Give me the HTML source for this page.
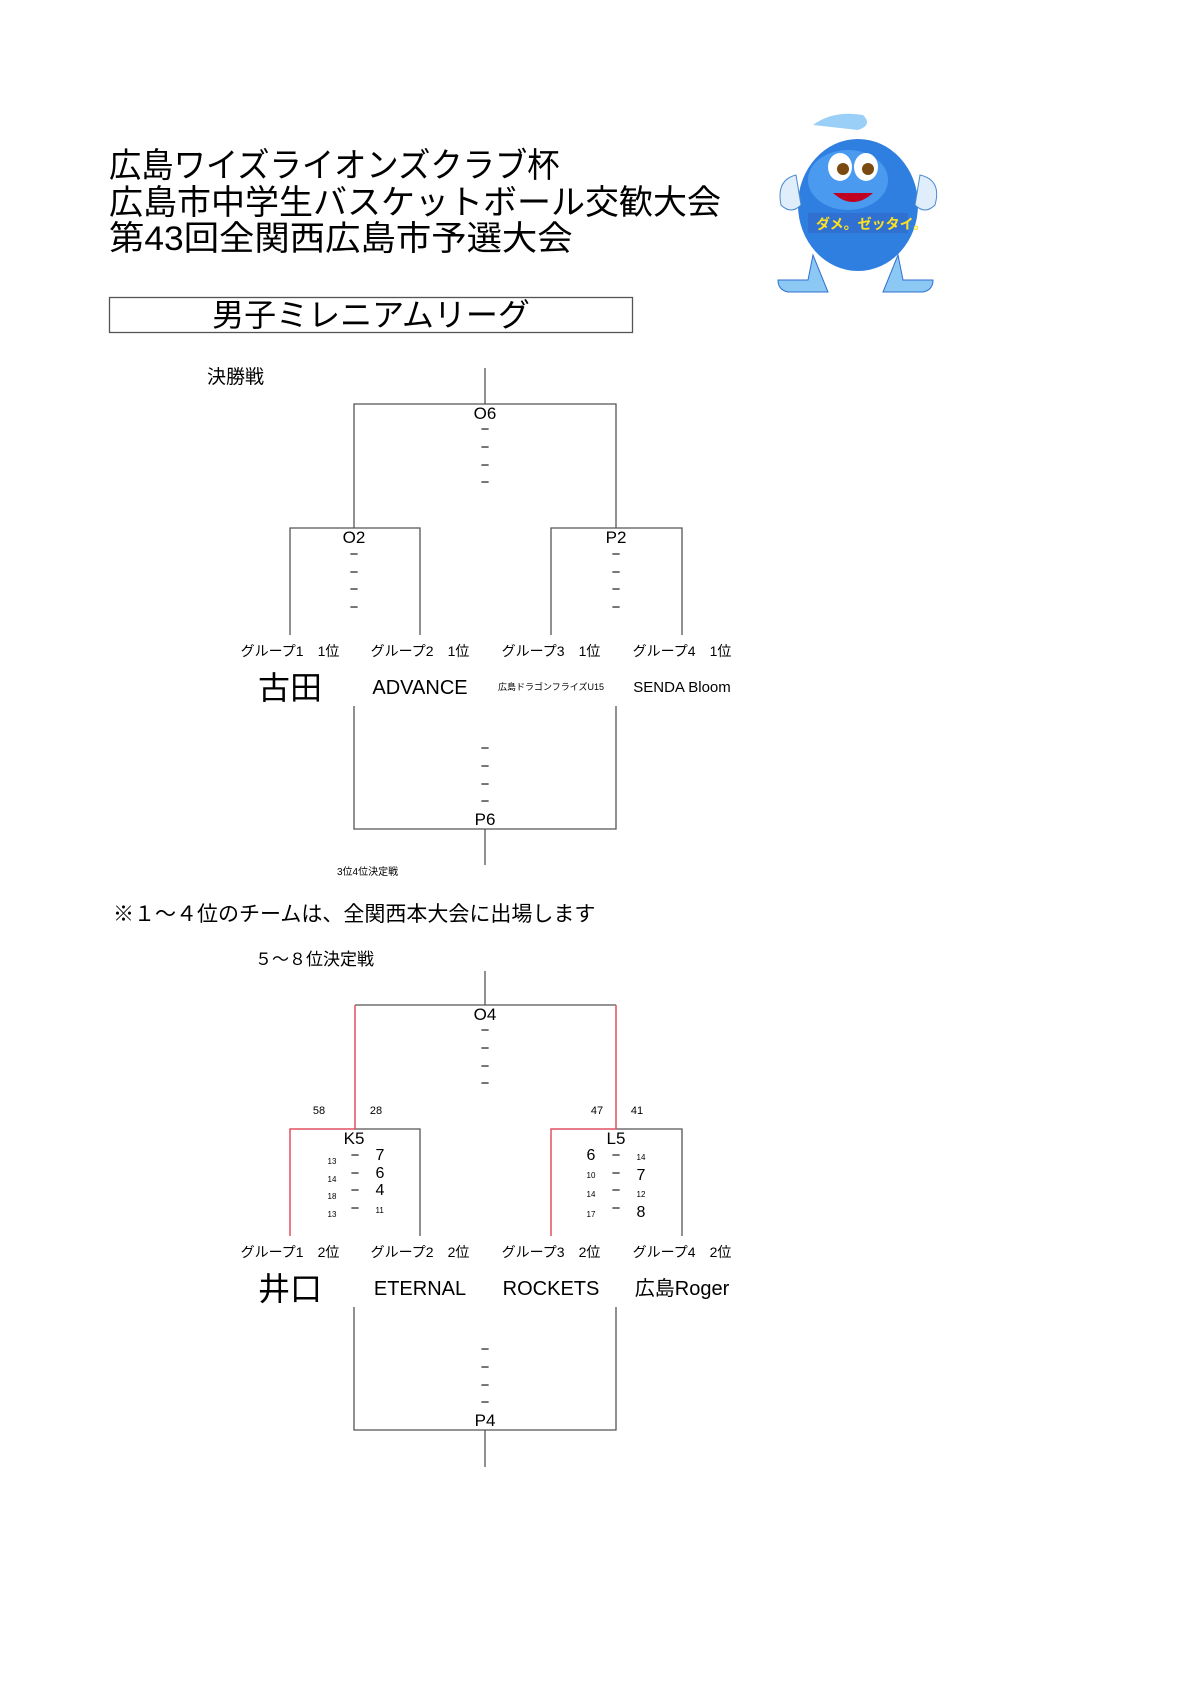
<!DOCTYPE html>
<html><head><meta charset="utf-8"><style>
body{margin:0;background:#fff;}
#p{position:relative;width:1190px;height:1683px;overflow:hidden;font-family:"Liberation Sans","Noto Sans CJK JP",sans-serif;color:#000;}
.t{position:absolute;white-space:nowrap;line-height:1;}
.c{transform:translateX(-50%);}
</style></head><body><div id="p">
<svg width="1190" height="1683" style="position:absolute;left:0;top:0">
<g stroke="#555" stroke-width="1.3" fill="none">
<path d="M485 368V404M354 528V404H616V528"/>
<path d="M290 635V528H420V635M551 635V528H682V635"/>
<path d="M354 706V829H616V706M485 829V865"/>
<path d="M485 971V1005M355 1005H616"/>
<path d="M354 1129H420V1236M616 1129H682V1236"/>
<path d="M354 1307V1430H616V1307M485 1430V1467"/>
<rect x="109.5" y="297.5" width="523" height="35"/>
</g>
<g stroke="#e05060" stroke-width="1.5" fill="none">
<path d="M355 1005V1129H290V1236M616 1005V1129H551V1236"/>
</g>
<g transform="translate(858,205)">
<ellipse cx="0" cy="0" rx="60" ry="66" fill="#2f7fe0"/>
<ellipse cx="-10" cy="-25" rx="40" ry="30" fill="#4a9af0"/>
<path d="M-62 -30 q-20 5 -15 30 q10 10 20 0z" fill="#dfeefa" stroke="#4a8ad0"/>
<path d="M62 -30 q22 5 15 30 q-10 10 -20 0z" fill="#dfeefa" stroke="#4a8ad0"/>
<ellipse cx="-18" cy="-38" rx="12" ry="14" fill="#fff"/><ellipse cx="8" cy="-38" rx="12" ry="14" fill="#fff"/>
<circle cx="-15" cy="-36" r="6" fill="#7a4a10"/><circle cx="10" cy="-36" r="6" fill="#7a4a10"/>
<path d="M-25 -12 q20 18 40 0" fill="#c00020"/>
<rect x="-50" y="8" width="100" height="20" fill="#3070d0"/>
<text x="-42" y="24" font-size="14" fill="#ffe020" font-family="Noto Sans CJK JP,sans-serif" font-weight="bold">ダメ。ゼッタイ。</text>
<path d="M-45 -80 q20 -15 50 -10 q10 10 -5 15z" fill="#9ad0f8"/>
<path d="M-45 50 l-5 25 h-30 q0 10 10 12 h40z" fill="#8cc8f4" stroke="#3070d0"/>
<path d="M40 50 l5 25 h30 q0 10 -10 12 h-40z" fill="#8cc8f4" stroke="#3070d0"/>
</g>
</svg>
<div class="t" style="left:109px;top:149px;font-size:34px;transform:scaleX(0.95);transform-origin:0 0;">広島ワイズライオンズクラブ杯</div>
<div class="t" style="left:109px;top:186px;font-size:34px;">広島市中学生バスケットボール交歓大会</div>
<div class="t" style="left:109px;top:222px;font-size:34px;transform:scaleX(1.04);transform-origin:0 0;">第43回全関西広島市予選大会</div>
<div class="t c" style="left:371px;top:299px;font-size:32px;">男子ミレニアムリーグ</div>
<div class="t" style="left:207px;top:368px;font-size:19px;">決勝戦</div>

<div class="t c" style="left:485px;top:405px;font-size:17px;">O6</div>
<div class="t c" style="left:485px;top:421px;font-size:15px;line-height:17.8px;">−<br>−<br>−<br>−</div>
<div class="t c" style="left:354px;top:529px;font-size:17px;">O2</div>
<div class="t c" style="left:354px;top:546px;font-size:15px;line-height:17.5px;">−<br>−<br>−<br>−</div>
<div class="t c" style="left:616px;top:529px;font-size:17px;">P2</div>
<div class="t c" style="left:616px;top:546px;font-size:15px;line-height:17.5px;">−<br>−<br>−<br>−</div>

<div class="t c" style="left:290px;top:644px;font-size:14px;">グループ1　1位</div>
<div class="t c" style="left:420px;top:644px;font-size:14px;">グループ2　1位</div>
<div class="t c" style="left:551px;top:644px;font-size:14px;">グループ3　1位</div>
<div class="t c" style="left:682px;top:644px;font-size:14px;">グループ4　1位</div>
<div class="t c" style="left:290px;top:672px;font-size:32px;">古田</div>
<div class="t c" style="left:420px;top:678px;font-size:20px;">ADVANCE</div>
<div class="t c" style="left:551px;top:683px;font-size:9px;">広島ドラゴンフライズU15</div>
<div class="t c" style="left:682px;top:680px;font-size:15px;">SENDA Bloom</div>

<div class="t c" style="left:485px;top:740px;font-size:15px;line-height:17.8px;">−<br>−<br>−<br>−</div>
<div class="t c" style="left:485px;top:811px;font-size:17px;">P6</div>
<div class="t" style="left:337px;top:868px;font-size:10px;">3位4位決定戦</div>
<div class="t" style="left:113px;top:904px;font-size:21px;">※１～４位のチームは、全関西本大会に出場します</div>
<div class="t" style="left:255px;top:951px;font-size:17px;">５～８位決定戦</div>

<div class="t c" style="left:485px;top:1006px;font-size:17px;">O4</div>
<div class="t c" style="left:485px;top:1022px;font-size:15px;line-height:17.8px;">−<br>−<br>−<br>−</div>
<div class="t c" style="left:319px;top:1106px;font-size:11px;">58</div>
<div class="t c" style="left:376px;top:1106px;font-size:11px;">28</div>
<div class="t c" style="left:597px;top:1106px;font-size:11px;">47</div>
<div class="t c" style="left:637px;top:1106px;font-size:11px;">41</div>
<div class="t c" style="left:354px;top:1130px;font-size:17px;">K5</div>
<div class="t c" style="left:616px;top:1130px;font-size:17px;">L5</div>

<div class="t c" style="left:332px;top:1153px;font-size:8px;line-height:17.5px;">13<br>14<br>18<br>13</div>
<div class="t c" style="left:355px;top:1147px;font-size:15px;line-height:17.5px;">−<br>−<br>−<br>−</div>
<div class="t c" style="left:380px;top:1147px;font-size:16px;line-height:17.5px;">7<br>6<br>4<br><span style="font-size:8px">11</span></div>
<div class="t c" style="left:591px;top:1147px;font-size:16px;line-height:17.5px;">6<br><span style="font-size:8px">10</span><br><span style="font-size:8px">14</span><br><span style="font-size:8px">17</span></div>
<div class="t c" style="left:616px;top:1147px;font-size:15px;line-height:17.5px;">−<br>−<br>−<br>−</div>
<div class="t c" style="left:641px;top:1147px;font-size:16px;line-height:17.5px;"><span style="font-size:8px">14</span><br>7<br><span style="font-size:8px">12</span><br>8</div>

<div class="t c" style="left:290px;top:1245px;font-size:14px;">グループ1　2位</div>
<div class="t c" style="left:420px;top:1245px;font-size:14px;">グループ2　2位</div>
<div class="t c" style="left:551px;top:1245px;font-size:14px;">グループ3　2位</div>
<div class="t c" style="left:682px;top:1245px;font-size:14px;">グループ4　2位</div>
<div class="t c" style="left:290px;top:1273px;font-size:32px;">井口</div>
<div class="t c" style="left:420px;top:1279px;font-size:20px;">ETERNAL</div>
<div class="t c" style="left:551px;top:1279px;font-size:20px;">ROCKETS</div>
<div class="t c" style="left:682px;top:1279px;font-size:20px;">広島Roger</div>

<div class="t c" style="left:485px;top:1341px;font-size:15px;line-height:17.8px;">−<br>−<br>−<br>−</div>
<div class="t c" style="left:485px;top:1412px;font-size:17px;">P4</div>
</div></body></html>
